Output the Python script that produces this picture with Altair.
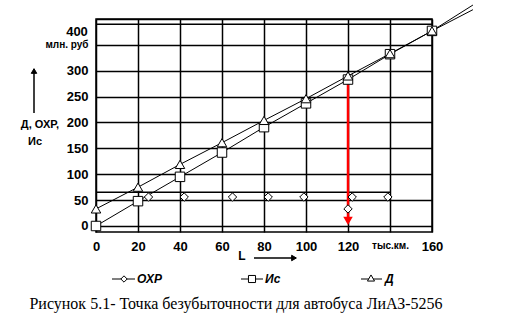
import altair as alt
import pandas as pd

# ---- data ----
L_km = [0, 20, 40, 60, 80, 100, 120, 140, 160]
Is_vals = [0, 48, 95, 142, 191, 237, 283, 332, 377]      # Ис
D_vals = [33, 75, 119, 161, 204, 246, 290, 333, 377]     # Д
ext_L = 179.5
Is_ext = 427
D_ext = 418
OHR_line_x = [0, 140]
OHR_line_y = [65, 65]
OHR_pts_x = [25, 42, 65, 82, 99, 122, 139, 120]
OHR_pts_y = [56, 56, 56, 56, 56, 56, 56, 33]
break_even_L = 120
break_even_top = 287
extra_grid = [390]
x_ticks = [0, 20, 40, 60, 80, 100, 120, 140, 160]
y_ticks = [0, 50, 100, 150, 200, 250, 300, 350, 400]

W, H = 336, 213
PL, PT = 96, 19

xs = alt.Scale(domain=[0, 160], nice=False, zero=False)
ys = alt.Scale(domain=[-11.6, 400], nice=False, zero=False)

BOLD = "Liberation Sans"

df_lines = pd.DataFrame({
    "L": L_km + [ext_L] + L_km + [ext_L],
    "v": Is_vals + [Is_ext] + D_vals + [D_ext],
    "s": ["Ис"] * 10 + ["Д"] * 10,
})
df_is = pd.DataFrame({"L": L_km, "v": Is_vals})
df_d = pd.DataFrame({"L": L_km, "v": D_vals})
df_ohr_line = pd.DataFrame({"L": OHR_line_x, "v": OHR_line_y})
df_ohr_pts = pd.DataFrame({"L": OHR_pts_x, "v": OHR_pts_y})

xax = alt.Axis(values=x_ticks, grid=True, gridColor="black", gridWidth=1.5,
               ticks=False, domain=False, labelFont=BOLD, labelFontWeight="bold",
               labelFontSize={"condition": {"test": "datum.value === 140", "value": 10}, "value": 13},
               labelExpr="datum.value === 140 ? 'тыс.км.' : datum.label",
               labelColor="black", labelPadding=8, title=None, labelFlush=False,
               labelOverlap=False)
yax = alt.Axis(values=y_ticks, grid=True, gridColor="black", gridWidth=1.5,
               ticks=False, domain=False, labelFont=BOLD, labelFontWeight="bold",
               labelFontSize={"condition": {"test": "datum.value === 350", "value": 10}, "value": 13},
               labelExpr="datum.value === 350 ? 'млн. руб' : datum.value === 400 ? '' : datum.label",
               labelColor="black", labelPadding=8, title=None, labelOverlap=False)

X = lambda: alt.X("L:Q", scale=xs, axis=xax)
Y = lambda: alt.Y("v:Q", scale=ys, axis=yax)

base = alt.Chart(pd.DataFrame({"L": [0], "v": [0]})).mark_point(opacity=0).encode(
    x=X(), y=Y())

top_grid = alt.Chart(pd.DataFrame({"v": extra_grid})).mark_rule(
    color="black", strokeWidth=1.5).encode(y=Y())

lines = alt.Chart(df_lines).mark_line(color="black", strokeWidth=1).encode(
    x=X(), y=Y(), detail="s:N")

ohr_line = alt.Chart(df_ohr_line).mark_line(color="black", strokeWidth=1.5).encode(
    x=X(), y=Y())

red = alt.Chart(pd.DataFrame({"L": [break_even_L], "v": [break_even_top], "v2": [14]})).mark_rule(
    color="#ff0000", strokeWidth=2.5).encode(x=X(), y=Y(), y2="v2:Q")
red_head = alt.Chart(pd.DataFrame({"L": [break_even_L], "v": [10]})).mark_point(
    shape="triangle-down", filled=True, color="#ff0000", size=90, opacity=1).encode(
    x=X(), y=Y())

ohr_pts = alt.Chart(df_ohr_pts).mark_point(shape="diamond", filled=True, fill="white",
    stroke="black", strokeWidth=1, size=70, opacity=1).encode(x=X(), y=Y())
is_pts = alt.Chart(df_is).mark_point(shape="square", filled=True, fill="white",
    stroke="black", strokeWidth=1, size=90, opacity=1).encode(x=X(), y=Y())
d_pts = alt.Chart(df_d).mark_point(shape="triangle-up", filled=True, fill="white",
    stroke="black", strokeWidth=1, size=90, opacity=1).encode(x=X(), y=Y())


def txt(t, px, py, size=12, font=BOLD, weight="bold", style="normal", align="center"):
    return alt.Chart(pd.DataFrame({"t": [t]})).mark_text(
        font=font, fontSize=size, fontWeight=weight, fontStyle=style, align=align,
        baseline="middle", color="black").encode(
        x=alt.value(px - PL), y=alt.value(py - PT), text="t:N")


def seg(x1, y1, x2, y2, w=1.5, color="black"):
    return alt.Chart(pd.DataFrame({"a": [0]})).mark_rule(color=color, strokeWidth=w).encode(
        x=alt.value(x1 - PL), x2=alt.value(x2 - PL), y=alt.value(y1 - PT), y2=alt.value(y2 - PT))


def marker(shape, px, py, size=50, fill="white"):
    return alt.Chart(pd.DataFrame({"a": [0]})).mark_point(
        shape=shape, filled=True, fill=fill, stroke="black", strokeWidth=1, size=size,
        opacity=1).encode(x=alt.value(px - PL), y=alt.value(py - PT))


extras = [
    txt("400", 77, 32, 13),
    txt("Д, ОХР,", 40, 125, 11),
    txt("Ис", 35, 142, 11),
    seg(34, 113, 34, 73, 1.5),
    marker("triangle-up", 34, 71, 30, fill="black"),
    txt("L", 242, 256, 12),
    seg(254, 258, 292, 258, 1.5),
    marker("triangle-right", 294, 258, 30, fill="black"),
    seg(112, 279, 135, 279, 1),
    marker("diamond", 124, 279, 40),
    txt("ОХР", 137, 279, 12, style="italic", align="left"),
    seg(241, 279, 263, 279, 1),
    marker("square", 252, 279, 50),
    txt("Ис", 265, 279, 12, style="italic", align="left"),
    seg(361, 279, 382, 279, 1),
    marker("triangle-up", 371, 278, 50),
    txt("Д", 385, 279, 12, style="italic", align="left"),
    txt("Рисунок 5.1- Точка безубыточности для автобуса ЛиАЗ-5256", 236, 304, 16,
        font="Liberation Serif", weight="normal"),
]

chart = alt.layer(base, top_grid, lines, ohr_line, red, red_head, ohr_pts, is_pts, d_pts,
                  *extras).properties(
    width=W, height=H,
    autosize=alt.AutoSizeParams(type="none"),
    padding={"left": PL, "top": PT, "right": 521 - PL - W, "bottom": 320 - PT - H},
    background="white",
).configure_view(stroke="black", strokeWidth=1.5)

chart.save("out.html", embed_options={"renderer": "svg", "actions": False})
